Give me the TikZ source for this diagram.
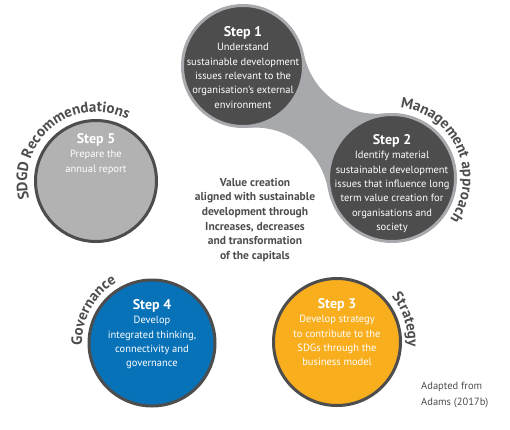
\documentclass[tikz,border=0pt]{standalone}
\usepackage{fontspec}
\setmainfont{PT Sans}
\usetikzlibrary{backgrounds,decorations.text}
\definecolor{sdgdark}{RGB}{77,77,77}
\definecolor{sdgring}{RGB}{167,169,172}
\definecolor{sdglight}{RGB}{178,178,178}
\definecolor{sdgblue}{RGB}{8,114,185}
\definecolor{sdgorange}{RGB}{249,174,30}
\tikzset{
    sdgstep/.style={circle, draw=sdgdark, line width=3pt, inner sep=0pt},
    sdgtext/.style={text=white, align=center, inner sep=0pt, anchor=north,
        font=\fontsize{10.5}{14.4}\selectfont},
    sdgarc/.style={decorate, decoration={text along path, text align=center,
        text color=sdgdark}}
}
\newcommand{\sdghead}[1]{{\fontsize{14}{16}\selectfont\bfseries #1}}
\newcommand{\sdgarcfont}{\fontsize{15}{15}\selectfont\bfseries}

\begin{document}
\begin{tikzpicture}[x=1pt, y=1pt]
        \useasboundingbox (0,0) rectangle (510,-429);

        % the five steps
        \node[sdgstep, draw=sdgring, fill=sdgdark, minimum size=121pt] (s1) at (243,-66) {};
        \node[sdgstep, draw=sdgring, fill=sdgdark, minimum size=127pt] (s2) at (392,-178) {};
        \node[sdgstep, fill=sdgorange, minimum size=127pt] (s3) at (337,-342) {};
        \node[sdgstep, fill=sdgblue, minimum size=126pt] (s4) at (152,-343) {};
        \node[sdgstep, fill=sdglight, minimum size=121pt] (s5) at (96,-181) {};

        \begin{scope}[on background layer]
            \fill[sdgring] (s1.10) to[bend right=42] (s2.95) -- (s2.190)
                to[bend right=42] (s1.275) -- cycle;
        \end{scope}

        \node[sdgtext] (t1) at ([yshift=40pt]s1.center)
            {\sdghead{Step 1}\\Understand\\sustainable development\\issues relevant to the\\organisation's external\\environment};
        \node[sdgtext] (t2) at ([yshift=44pt]s2.center)
            {\sdghead{Step 2}\\Identify material\\sustainable development\\issues that influence long\\term value creation for\\organisations and\\society};
        \node[sdgtext] (t3) at ([yshift=44pt]s3.center)
            {\sdghead{Step 3}\\Develop strategy\\to contribute to the\\SDGs through the\\business model};
        \node[sdgtext] (t4) at ([yshift=44pt]s4.center)
            {\sdghead{Step 4}\\Develop\\integrated thinking,\\connectivity and\\governance};
        \node[sdgtext] (t5) at ([yshift=48pt]s5.center)
            {\sdghead{Step 5}\\Prepare the\\annual report};

        % labels round the circles
        \path[sdgarc, decoration={text={|\sdgarcfont|Management approach}}]
            ([shift={(114:71pt)}]s2.center) arc[start angle=114, end angle=-66, radius=71pt];
        \path[sdgarc, decoration={text={|\sdgarcfont|SDGD Recommendations}}]
            ([shift={(219:69pt)}]s5.center) arc[start angle=219, end angle=39, radius=69pt];
        \path[sdgarc, decoration={text={|\sdgarcfont|Governance}}]
            ([shift={(211:70pt)}]s4.center) arc[start angle=211, end angle=91, radius=70pt];
        \path[sdgarc, decoration={text={|\sdgarcfont|Strategy}}]
            ([shift={(78:71pt)}]s3.center) arc[start angle=78, end angle=-42, radius=71pt];

        \node[text=sdgdark, align=center, inner sep=0pt,
            font=\fontsize{11.5}{14.7}\selectfont\bfseries] (value) at (255,-220)
            {Value creation\\aligned with sustainable\\development through\\Increases, decreases\\and transformation\\of the capitals};
        \node[text=sdgdark, align=left, inner sep=0pt, anchor=north west,
            font=\fontsize{10.5}{15.7}\selectfont] (source) at (421,-382)
            {Adapted from\\Adams (2017b)};
    \end{tikzpicture}
\end{document}
